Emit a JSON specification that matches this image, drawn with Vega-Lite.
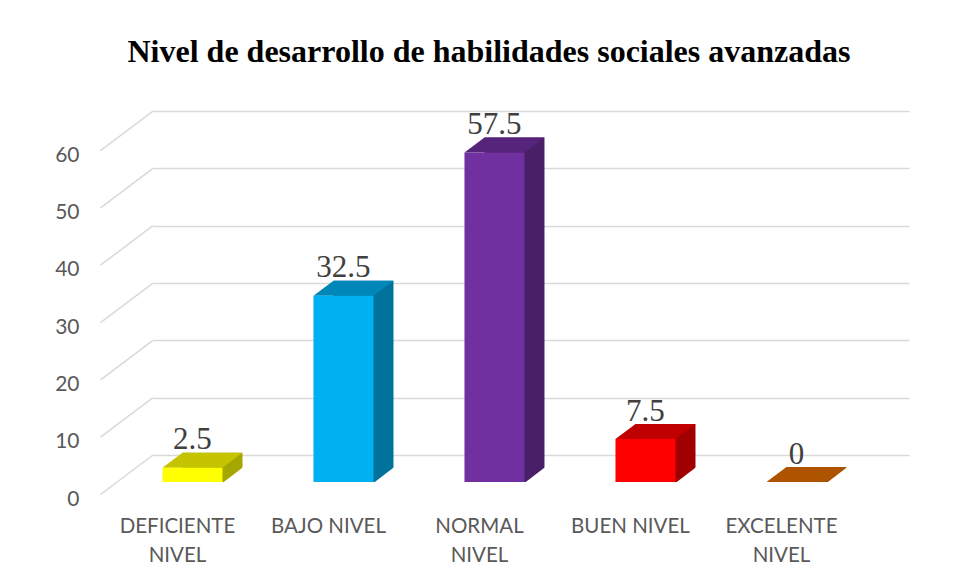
{
  "$schema": "https://vega.github.io/schema/vega-lite/v6.json",
  "width": 756,
  "height": 372,
  "autosize": "none",
  "padding": {"left": 153, "top": 110, "right": 48, "bottom": 101},
  "background": "white",
  "config": {"view": {"stroke": null}},
  "title": {
    "text": "Nivel de desarrollo de habilidades sociales avanzadas",
    "font": "Liberation Serif",
    "fontSize": 32,
    "fontWeight": "bold",
    "color": "#000000",
    "anchor": "middle",
    "frame": "group",
    "dx": -42,
    "offset": 40
  },
  "datasets": {
    "niveles": [
      {"nivel": "DEFICIENTE NIVEL", "porcentaje": 2.5},
      {"nivel": "BAJO NIVEL", "porcentaje": 32.5},
      {"nivel": "NORMAL NIVEL", "porcentaje": 57.5},
      {"nivel": "BUEN NIVEL", "porcentaje": 7.5},
      {"nivel": "EXCELENTE NIVEL", "porcentaje": 0}
    ],
    "marcas": [
      {"porcentaje": 0}, {"porcentaje": 10}, {"porcentaje": 20}, {"porcentaje": 30},
      {"porcentaje": 40}, {"porcentaje": 50}, {"porcentaje": 60}
    ]
  },
  "data": {"name": "niveles"},
  "encoding": {
    "x": {
      "field": "nivel",
      "type": "nominal",
      "sort": null,
      "scale": {
        "domain": ["DEFICIENTE NIVEL", "BAJO NIVEL", "NORMAL NIVEL", "BUEN NIVEL", "EXCELENTE NIVEL"],
        "paddingInner": 0.6026,
        "paddingOuter": 0.3046,
        "align": 0.103
      },
      "axis": {
        "title": null,
        "domain": false,
        "ticks": false,
        "grid": false,
        "labelAngle": 0,
        "labelFont": "Lato",
        "labelFontSize": 20.5,
        "labelColor": "#595959",
        "labelOffset": -15,
        "labelPadding": 34,
        "labelLineHeight": 29,
        "labelBaseline": "top",
        "labelExpr": "length(datum.label) > 11 ? split(datum.label, ' ') : datum.label"
      }
    },
    "y": {
      "field": "porcentaje",
      "type": "quantitative",
      "scale": {"domain": [0, 64.9], "nice": false, "zero": true},
      "axis": {
        "title": null,
        "values": [0, 10, 20, 30, 40, 50, 60],
        "domain": false,
        "ticks": false,
        "tickSize": 0,
        "grid": true,
        "gridColor": "#D9D9D9",
        "gridWidth": 1.5,
        "tickOffset": -27,
        "labelOffset": 44,
        "labelPadding": 74,
        "labelFont": "Lato",
        "labelFontSize": 21,
        "labelColor": "#595959"
      }
    }
  },
  "resolve": {"scale": {"color": "independent"}},
  "layer": [
    {
      "data": {"name": "marcas"},
      "mark": {"type": "rule", "color": "#D9D9D9", "strokeWidth": 1.5, "xOffset": -52.5, "yOffset": 12.5, "y2Offset": -27},
      "encoding": {
        "x": {"value": 0},
        "x2": {"value": 0},
        "y2": {"field": "porcentaje"}
      }
    },
    {
      "mark": {"type": "bar", "xOffset": 20, "yOffset": -15},
      "encoding": {
        "y2": {"datum": 0},
        "color": {
          "field": "nivel", "type": "nominal", "legend": null,
          "scale": {
            "domain": ["DEFICIENTE NIVEL", "BAJO NIVEL", "NORMAL NIVEL", "BUEN NIVEL", "EXCELENTE NIVEL"],
            "range": ["#A6A600", "#00729C", "#491F68", "#A00000", "#934600"]
          }
        }
      }
    },
    {
      "mark": {"type": "point", "shape": "M -0.6 0 L 0.6 0 L 1 -0.3 L -0.2 -0.3 Z", "size": 10000, "filled": true, "opacity": 1, "strokeWidth": 0},
      "encoding": {
        "color": {
          "field": "nivel", "type": "nominal", "legend": null,
          "scale": {
            "domain": ["DEFICIENTE NIVEL", "BAJO NIVEL", "NORMAL NIVEL", "BUEN NIVEL", "EXCELENTE NIVEL"],
            "range": ["#C4C400", "#0087B9", "#56257B", "#C00000", "#AE5300"]
          }
        }
      }
    },
    {
      "mark": {"type": "point", "shape": "M 0.6 0.02 L 1.03 0.02 L 1.03 -0.31 Z", "size": 10000, "filled": true, "opacity": 1, "strokeWidth": 0, "color": "#FFFFFF"},
      "encoding": {
        "y": {"datum": 0}
      }
    },
    {
      "mark": {"type": "bar"},
      "encoding": {
        "y2": {"datum": 0},
        "color": {
          "field": "nivel", "type": "nominal", "legend": null,
          "scale": {
            "domain": ["DEFICIENTE NIVEL", "BAJO NIVEL", "NORMAL NIVEL", "BUEN NIVEL", "EXCELENTE NIVEL"],
            "range": ["#FFFF00", "#00B0F0", "#7030A0", "#FF0000", "#E36C09"]
          }
        }
      }
    },
    {
      "mark": {"type": "text", "font": "Liberation Serif", "fontSize": 31, "color": "#404040", "baseline": "alphabetic", "dy": -18.5},
      "encoding": {
        "text": {"field": "porcentaje", "type": "quantitative", "format": ""}
      }
    }
  ]
}
